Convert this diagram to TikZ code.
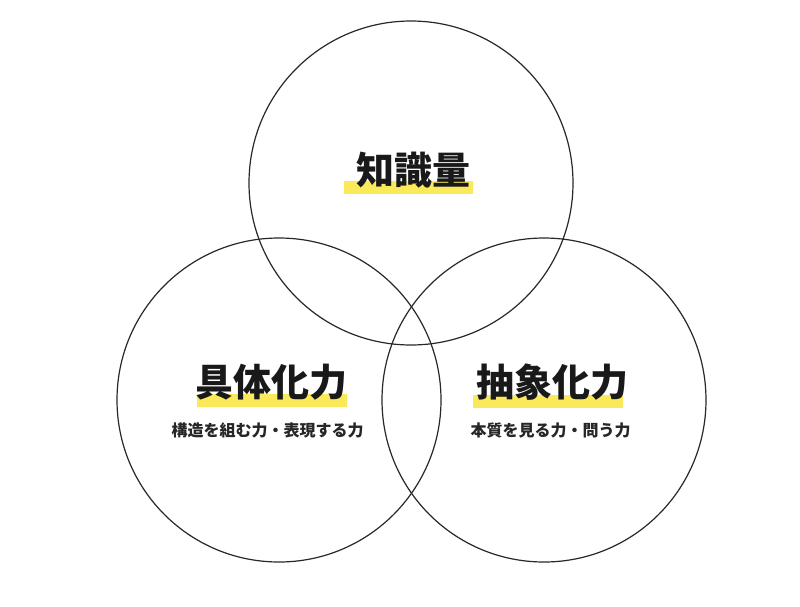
\documentclass[tikz,border=0pt]{standalone}
\usepackage{fontspec}
\newfontfamily\jp{Noto Sans CJK JP}
\definecolor{hl}{RGB}{250,234,90}
\definecolor{ln}{RGB}{40,40,40}
\tikzset{
  ring/.style={circle, draw=ln, line width=1.2pt, minimum size=324pt, inner sep=0pt},
  hlbar/.style={fill=hl, inner sep=0pt, minimum height=13pt},
  head/.style={inner sep=0pt, font=\jp\bfseries\fontsize{38}{38}\selectfont, text=black!90},
  sub/.style={inner sep=0pt, font=\jp\bfseries\fontsize{16}{16}\selectfont, text=black!85}
}
\begin{document}
\begin{tikzpicture}[x=1pt,y=-1pt]
\useasboundingbox (0,0) rectangle (800,606);
\fill[white] (0,0) rectangle (800,606);
% circles
\node[ring] (ctop) at (411,183) {};
\node[ring] (cleft) at (279,400) {};
\node[ring] (cright) at (544,400) {};
% highlight bars
\node[hlbar, minimum width=129pt] (b1) at (408.5,187.5) {};
\node[hlbar, minimum width=150pt] (b2) at (272,400.5) {};
\node[hlbar, minimum width=150pt] (b3) at (548,401) {};
% headings
\node[head] (t1) at (413,170) {知識量};
\node[head] (t2) at (271,382) {具体化力};
\node[head] (t3) at (552,382) {抽象化力};
% subtitles
\node[sub] (s2) at (267.5,430) {構造を組む力・表現する力};
\node[sub] (s3) at (550.5,430) {本質を見る力・問う力};
\end{tikzpicture}
\end{document}
